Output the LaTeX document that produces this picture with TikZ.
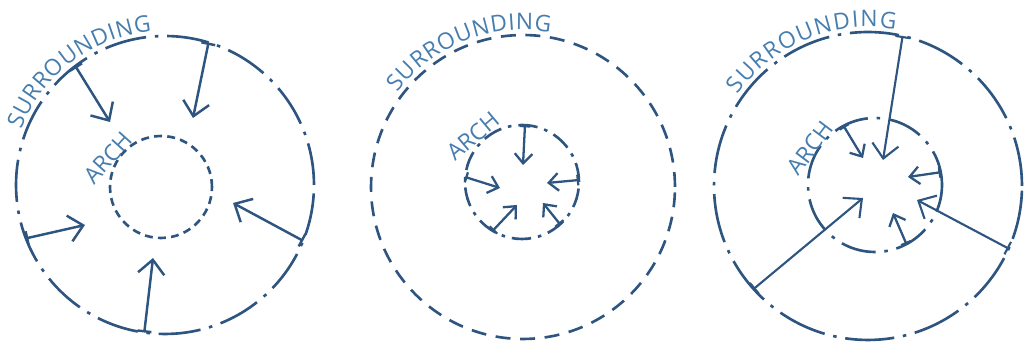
\documentclass[tikz,border=0pt]{standalone}
\usepackage{fontspec}
\newfontfamily\skfont{Open Sans}
\usepackage{tikz}
\usetikzlibrary{arrows.meta, calc, decorations.text}
\definecolor{inkline}{RGB}{45,85,128}
\definecolor{inktext}{RGB}{70,125,175}

\begin{document}
\begin{tikzpicture}[
  x=0.02cm, y=0.02cm,
  ring/.style={circle, draw=inkline, line width=1.5pt, inner sep=0pt, outer sep=0pt},
  longdash/.style={ring, dash pattern=on 24pt off 5pt on 2pt off 5pt},
  shortdash/.style={ring, dash pattern=on 4.5pt off 3pt},
  middash/.style={ring, dash pattern=on 8.5pt off 5.5pt},
  push/.style={{Bar[width=8pt]}-{Straight Barb[length=8pt,width=15pt]}, draw=inkline, line width=1.4pt},
  nudge/.style={{Bar[width=6pt]}-{Straight Barb[length=5.5pt,width=10pt]}, draw=inkline, line width=1.3pt},
  archlbl/.style={font=\skfont\fontsize{13}{13}\selectfont, text=inktext, inner sep=0pt},
  surr/.style={decorate, decoration={text along path, text align=fit to path, text color=inktext,
    text={|\skfont\fontsize{13}{13}\selectfont|SURROUNDING}}}
]
  \useasboundingbox (0,0) rectangle (1028,344);

  %---------------- LEFT: PRESSURE FROM OUTSIDE ----------------%
  \node[longdash, minimum size=5.96cm] (o1) at (165,159) {};
  \node[shortdash, minimum size=2.04cm] (i1) at (161,157) {};
  \path[surr] ($(o1.center)+(159:154)$) arc[start angle=159, end angle=95, radius=154];
  \node[archlbl, rotate=48] (arch1) at (108,186) {ARCH};

  \coordinate (h11) at (110,222);
  \coordinate (h12) at (193,226);
  \coordinate (h13) at (233,141);
  \coordinate (h14) at (153,86);
  \coordinate (h15) at (85,119);

  \draw[push] (o1.127) -- (h11);
  \draw[push] (o1.73) -- (h12);
  \draw[push] (o1.-22) -- (h13);
  \draw[push] (o1.262) -- (h14);
  \draw[push] (o1.201) -- (h15);

  %---------------- MIDDLE: PRESSURE FROM INSIDE ----------------%
  \node[middash, minimum size=6.08cm] (o2) at (523,157) {};
  \node[longdash, dash pattern=on 11pt off 4pt on 2pt off 4pt, minimum size=2.28cm] (i2) at (522,162) {};
  \path[surr] ($(o2.center)+(143:157)$) arc[start angle=143, end angle=80, radius=157];
  \node[archlbl, rotate=40] (arch2) at (473,208) {ARCH};

  \coordinate (h21) at (523,179);
  \coordinate (h22) at (500,156);
  \coordinate (h23) at (547,161);
  \coordinate (h24) at (517,139);
  \coordinate (h25) at (543,141);

  \draw[nudge] (i2.87) -- (h21);
  \draw[nudge] (i2.175) -- (h22);
  \draw[nudge] (i2.2) -- (h23);
  \draw[nudge] (i2.239) -- (h24);
  \draw[nudge] (i2.312) -- (h25);

  %---------------- RIGHT: BOTH ----------------%
  \node[longdash, dash pattern=on 28pt off 5pt on 2pt off 5pt, minimum size=6.16cm] (o3) at (868,158) {};
  \node[longdash, dash pattern=on 20pt off 5pt on 2pt off 5pt, minimum size=2.68cm] (i3) at (875,159) {};
  \path[surr] ($(o3.center)+(145:159)$) arc[start angle=145, end angle=80, radius=159];
  \node[archlbl, rotate=53] (arch3) at (810,196) {ARCH};

  \coordinate (h31) at (883,184);
  \coordinate (h32) at (863,186);
  \coordinate (h33) at (908,167);
  \coordinate (h34) at (863,146);
  \coordinate (h35) at (917,144);
  \coordinate (h36) at (893,131);

  \draw[push, line width=1.2pt] (o3.77) -- (h31);
  \draw[nudge] (i3.118) -- (h32);
  \draw[nudge] (i3.11) -- (h33);
  \draw[push, line width=1.2pt] (o3.222) -- (h34);
  \draw[push, line width=1.2pt] (o3.336) -- (h35);
  \draw[nudge] (i3.298) -- (h36);

\end{tikzpicture}
\end{document}
